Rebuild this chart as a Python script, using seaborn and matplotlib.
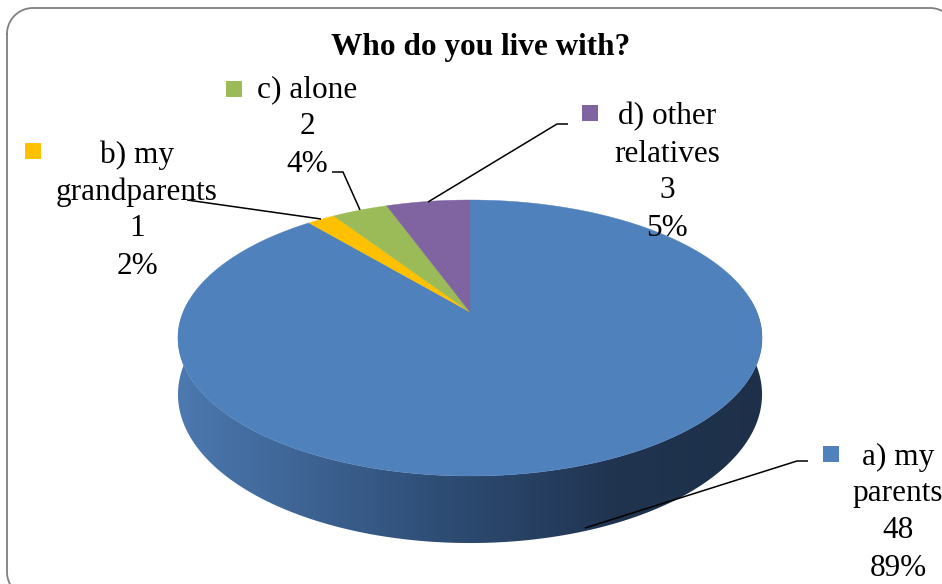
import numpy as np
import matplotlib
matplotlib.use("Agg")
import matplotlib.pyplot as plt
from matplotlib.patches import Polygon, Rectangle
from matplotlib.colors import LinearSegmentedColormap
import seaborn as sns

# ---- data -------------------------------------------------------------
categories = ["a) my\nparents", "b) my\ngrandparents", "c) alone", "d) other\nrelatives"]
counts = [48, 1, 2, 3]
percent_labels = ["89%", "2%", "4%", "5%"]
slice_colors = ["#4F81BD", "#FFC000", "#9BBB59", "#8064A2"]
title = "Who do you live with?"

sns.set_theme(style="white")
plt.rcParams["font.family"] = ["Liberation Serif", "DejaVu Serif"]
palette = sns.color_palette(slice_colors)

W, H = 942, 584
fig = plt.figure(figsize=(W / 100, H / 100), dpi=100)
ax = fig.add_axes([0, 0, 1, 1])
ax.axis("off")

# ---- tilted pie projection (pixel space) ------------------------------
CX, CY = 470.0, 312.0      # apex of the pie on screen
A, B = 286.8, 133.1        # horizontal / vertical scale of the disc
K = 0.1884                 # perspective strength
DEPTH = 54.4               # thickness of the disc


def project(theta_deg, depth=0.0):
    t = np.radians(theta_deg)
    x, y = np.cos(t), np.sin(t)
    w = 1.0 + K * y
    return CX + A * x / w, CY - B * y / w + depth * DEPTH / w


# side wall: band between top rim and bottom rim, shaded left to right
ts = np.linspace(150, 390, 500)
xt, yt = project(ts)
xb, yb = project(ts, 1)
band = np.column_stack([np.concatenate([xt, xb[::-1]]),
                        np.concatenate([yt, yb[::-1]])])
side_patch = Polygon(band, closed=True, facecolor="none", edgecolor="none")
ax.add_patch(side_patch)
side_cmap = LinearSegmentedColormap.from_list(
    "side", [(0.0, "#4C79B0"), (0.45, "#2E4D75"), (0.75, "#203450"), (1.0, "#1E3049")])
grad = np.linspace(0, 1, 512)[None, :]
x_left, x_right = CX - 293, CX + 293
img = ax.imshow(grad, cmap=side_cmap, extent=(x_left, x_right, 560, 300),
                aspect="auto", zorder=1, interpolation="bilinear")
img.set_clip_path(side_patch)

# top face wedges, clockwise from 12 o'clock
total = float(sum(counts))
start = 90.0
for val, col in zip(counts, palette):
    sweep = val / total * 360.0
    angs = np.linspace(start, start - sweep, max(int(sweep * 2), 4))
    xs, ys = project(angs)
    pts = [(CX, CY)] + list(zip(xs, ys))
    ax.add_patch(Polygon(pts, closed=True, facecolor=col, edgecolor=col,
                         linewidth=0.3, zorder=2))
    start -= sweep

# ---- labels -------------------------------------------------------------
FS = 22.5
LINE = 37.0
label_pos = {  # text centre x, first line y, key square x, key square y
    0: (898, 457, 823, 446),
    1: (137, 155, 25, 143),
    2: (307, 90, 226, 81),
    3: (667, 117, 582, 105),
}
for i, (cat, n, pct) in enumerate(zip(categories, counts, percent_labels)):
    tx, ty, sx, sy = label_pos[i]
    lines = cat.split("\n") + [str(n), pct]
    for j, line in enumerate(lines):
        ax.text(tx, ty + j * LINE, line, ha="center", va="center",
                fontsize=FS, color="black", zorder=5)
    ax.add_patch(Rectangle((sx, sy), 16, 16, facecolor=palette[i],
                           edgecolor="none", zorder=5))

# leader lines
leaders = [
    [(585, 528), (797, 461), (808, 461)],
    [(187, 200), (321, 219)],
    [(332, 172), (343, 172), (360, 210)],
    [(428, 202), (557, 124), (568, 124)],
]
for pts in leaders:
    xs, ys = zip(*pts)
    ax.plot(xs, ys, color="black", linewidth=1.1, zorder=4,
            solid_capstyle="butt")

ax.text(481, 48, title, ha="center", va="center", fontsize=FS,
        fontweight="bold", color="black", zorder=5)

# chart frame: rounded rectangle running past the right and bottom edges
fx0, fy0, fx1, fy1, r = 7.0, 8.0, 956.0, 598.0, 26.0
def corner(cx, cy, a0, a1):
    a = np.radians(np.linspace(a0, a1, 30))
    return cx + r * np.cos(a), cy - r * np.sin(a)
segs = [corner(fx0 + r, fy0 + r, 180, 90), corner(fx1 - r, fy0 + r, 90, 0),
        corner(fx1 - r, fy1 - r, 0, -90), corner(fx0 + r, fy1 - r, -90, -180)]
frame_x = np.concatenate([s[0] for s in segs] + [segs[0][0][:1]])
frame_y = np.concatenate([s[1] for s in segs] + [segs[0][1][:1]])
ax.plot(frame_x, frame_y, color="#808080", linewidth=1.3, zorder=6)

ax.set_xlim(0, W)
ax.set_ylim(H, 0)

fig.savefig("out.png", dpi=100)
